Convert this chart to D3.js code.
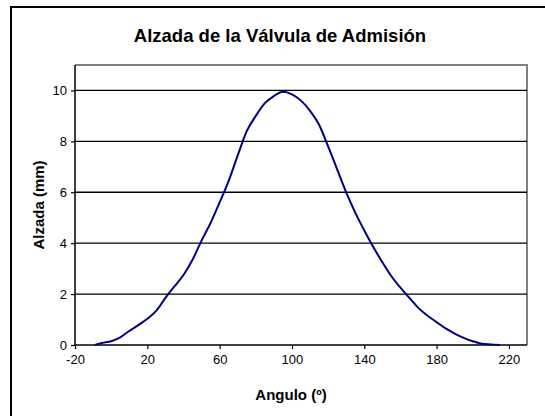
<!DOCTYPE html>
<meta charset="utf-8">
<style>
  body { margin: 0; background: #fff; }
  svg text { font-family: "Liberation Sans", Arial, sans-serif; }
  .tick text { font-size: 13px; fill: #000; }
  .grid line { stroke: #000; stroke-width: 1.3; }
</style>
<body>
<svg width="545" height="416"></svg>
<script src="https://cdn.jsdelivr.net/npm/d3@7"></script>
<script>
// valve lift data
var angles = [-9, -5, 0, 5, 10, 15, 20, 25, 30, 35, 40, 45, 50, 55, 60, 65, 70, 75, 80, 85, 90,
              95, 100, 105, 110, 115, 120, 125, 130, 135, 140, 145, 150, 155, 160, 165, 170,
              175, 180, 185, 190, 195, 200, 205, 210, 215];
var lift = [0, 0.08, 0.15, 0.3, 0.55, 0.78, 1.03, 1.35, 1.85, 2.3, 2.75, 3.35, 4.1, 4.8, 5.6, 6.45, 7.45, 8.4, 9.0, 9.5, 9.78,
            9.95, 9.85, 9.6, 9.2, 8.65, 7.8, 6.9, 6.0, 5.2, 4.5, 3.85, 3.25, 2.7, 2.25, 1.85, 1.45,
            1.15, 0.9, 0.65, 0.45, 0.28, 0.15, 0.05, 0.02, 0];
var xTicks = [-20, 20, 60, 100, 140, 180, 220];
var yTicks = [0, 2, 4, 6, 8, 10];

var svg = d3.select("svg");

// outer chart frame (runs off the right/bottom edge)
svg.append("rect")
  .attr("x", 11).attr("y", 7)
  .attr("width", 560).attr("height", 430)
  .attr("fill", "#fff")
  .attr("stroke", "#000")
  .attr("stroke-width", 2);

var pl = 75, pr = 527, pt = 65, pb = 345;
var x = d3.scaleLinear().domain([-20, 230]).range([pl, pr]);
var y = d3.scaleLinear().domain([0, 11]).range([pb, pt]);

// plot area border (grey top/right)
svg.append("path")
  .attr("d", "M" + pl + "," + pt + "H" + pr + "V" + pb)
  .attr("fill", "none")
  .attr("stroke", "#808080")
  .attr("stroke-width", 2);

// gridlines
svg.append("g").attr("class", "grid")
  .selectAll("line")
  .data(yTicks.filter(function(d) { return d > 0; }))
  .enter().append("line")
    .attr("x1", pl).attr("x2", pr)
    .attr("y1", function(d) { return y(d); })
    .attr("y2", function(d) { return y(d); });

// axes
var xAxis = svg.append("g")
  .attr("transform", "translate(0," + pb + ")")
  .call(d3.axisBottom(x).tickValues(xTicks).tickSize(4).tickPadding(6)
    .tickFormat(function(d) { return String(d); }));
var yAxis = svg.append("g")
  .attr("transform", "translate(" + pl + ",0)")
  .call(d3.axisLeft(y).tickValues(yTicks).tickSize(4).tickPadding(4)
    .tickFormat(function(d) { return String(d); }));
[xAxis, yAxis].forEach(function(g) {
  g.select(".domain").attr("stroke", "#000").attr("stroke-width", 1.5);
  g.selectAll(".tick line").attr("stroke", "#000").attr("stroke-width", 1.2);
});
xAxis.select(".domain").attr("d", "M" + pl + ",0H" + pr);
yAxis.select(".domain").attr("d", "M0," + pb + "V" + pt);

// curve
svg.append("path")
  .datum(angles.map(function(a, i) { return [a, lift[i]]; }))
  .attr("fill", "none")
  .attr("stroke", "#000080")
  .attr("stroke-width", 2)
  .attr("d", d3.line()
    .curve(d3.curveMonotoneX)
    .x(function(d) { return x(d[0]); })
    .y(function(d) { return y(d[1]); }));

// titles
svg.append("text")
  .attr("x", 280).attr("y", 42)
  .attr("text-anchor", "middle")
  .style("font-size", "18.5px").style("font-weight", "bold")
  .text("Alzada de la Válvula de Admisión");

svg.append("text")
  .attr("x", 291).attr("y", 400)
  .attr("text-anchor", "middle")
  .style("font-size", "15px").style("font-weight", "bold")
  .text("Angulo (º)");

svg.append("text")
  .attr("transform", "translate(44,205) rotate(-90)")
  .attr("text-anchor", "middle")
  .style("font-size", "15px").style("font-weight", "bold")
  .text("Alzada (mm)");
</script>
</body>
